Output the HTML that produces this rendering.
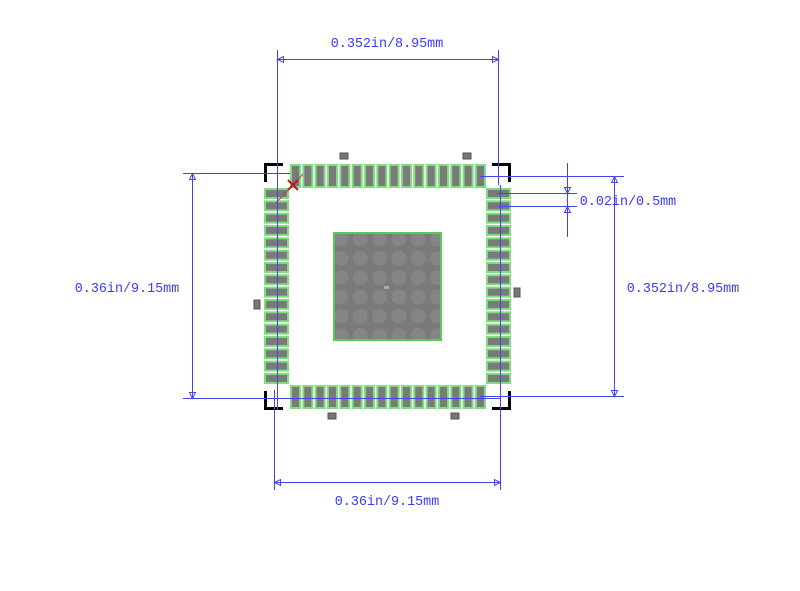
<!DOCTYPE html>
<html><head><meta charset="utf-8"><style>
html,body{margin:0;padding:0;background:#fff}
svg{display:block}
text{font-family:"Liberation Mono",monospace;font-size:13.4px;fill:#3a3aff}
</style></head><body>
<svg id="s" width="800" height="591" viewBox="0 0 800 591" xmlns="http://www.w3.org/2000/svg">
<g id="pads"></g>
<rect x="334" y="233" width="107" height="107" fill="#7a7a7a" stroke="#55cc55" stroke-width="2"/>
<g id="circ" fill="#858585"></g>
<rect x="384" y="286" width="5" height="3" fill="#aaa"/>
<g fill="#777" stroke="#555" stroke-width="1">
<rect x="340" y="153" width="8" height="6"/>
<rect x="463" y="153" width="8" height="6"/>
<rect x="254" y="300" width="6" height="9"/>
<rect x="514" y="288" width="6" height="9"/>
<rect x="328" y="413" width="8" height="6"/>
<rect x="451" y="413" width="8" height="6"/>
</g>
<g stroke="#000" stroke-width="3" fill="none">
<path d="M265.5,182 V164.5 H283"/>
<path d="M492,164.5 H509.5 V182"/>
<path d="M265.5,391 V408.5 H283"/>
<path d="M492,408.5 H509.5 V391"/>
</g>
<line x1="276" y1="203" x2="303" y2="174" stroke="#cc3355" stroke-width="1"/>
<g stroke="#cc1122" stroke-width="2"><line x1="288" y1="180" x2="298" y2="190"/><line x1="298" y1="180" x2="288" y2="190"/></g>
<g stroke="#4444ee" stroke-width="1" fill="none">
<line x1="277.5" y1="50" x2="277.5" y2="185"/><line x1="498.5" y1="50" x2="498.5" y2="185"/>
<line x1="277" y1="59.5" x2="498" y2="59.5"/>
<path d="M277.5,59.5 l6,-3 v6 z"/><path d="M498.5,59.5 l-6,-3 v6 z"/>
<line x1="274.5" y1="390" x2="274.5" y2="490"/><line x1="500.5" y1="185" x2="500.5" y2="490"/>
<line x1="274" y1="482.5" x2="500" y2="482.5"/>
<path d="M274.5,482.5 l6,-3 v6 z"/><path d="M500.5,482.5 l-6,-3 v6 z"/>
<line x1="183" y1="173.5" x2="290" y2="173.5"/><line x1="183" y1="398.5" x2="500" y2="398.5"/>
<line x1="192.5" y1="173" x2="192.5" y2="398"/>
<path d="M192.5,173.5 l-3,6 h6 z"/><path d="M192.5,398.5 l-3,-6 h6 z"/>
<line x1="277.5" y1="185" x2="277.5" y2="410"/>
<line x1="480" y1="176.5" x2="624" y2="176.5"/><line x1="480" y1="396.5" x2="624" y2="396.5"/>
<line x1="614.5" y1="176" x2="614.5" y2="397"/>
<path d="M614.5,176.5 l-3,6 h6 z"/><path d="M614.5,396.5 l-3,-6 h6 z"/>
<line x1="498" y1="193.5" x2="577" y2="193.5"/><line x1="498" y1="206.5" x2="577" y2="206.5"/>
<line x1="567.5" y1="163" x2="567.5" y2="237"/>
<path d="M567.5,193.5 l-3,-6 h6 z"/><path d="M567.5,206.5 l-3,6 h6 z"/>
</g>
<text x="387" y="47" text-anchor="middle">0.352in/8.95mm</text>
<text x="387" y="505" text-anchor="middle">0.36in/9.15mm</text>
<text x="127" y="292" text-anchor="middle">0.36in/9.15mm</text>
<text x="683" y="292" text-anchor="middle">0.352in/8.95mm</text>
<text x="628" y="205" text-anchor="middle">0.02in/0.5mm</text>
</svg>
<script>
var NS="http://www.w3.org/2000/svg",p=document.getElementById("pads"),c=document.getElementById("circ");
function r(x,y,w,h){var e=document.createElementNS(NS,"rect");e.setAttribute("x",x);e.setAttribute("y",y);e.setAttribute("width",w);e.setAttribute("height",h);e.setAttribute("fill","#7a7a7a");e.setAttribute("stroke","#7fdc7f");e.setAttribute("stroke-width","2");p.appendChild(e);}
var pitch=12.33;
for(var i=0;i<16;i++){
 r(291+i*pitch,165,9,22);
 r(291+i*pitch,386,9,22);
 r(265,189+i*pitch,23,9);
 r(487,189+i*pitch,23,9);
}
for(var a=0;a<6;a++)for(var b=0;b<6;b++){
 var e=document.createElementNS(NS,"circle");e.setAttribute("cx",341+a*19.3);e.setAttribute("cy",239+b*19.3);e.setAttribute("r",7.5);c.appendChild(e);
}
c.setAttribute("clip-path","url(#cp)");
var d=document.createElementNS(NS,"defs");d.innerHTML='<clipPath id="cp"><rect x="335" y="234" width="105" height="105"/></clipPath>';
document.getElementById("s").insertBefore(d,document.getElementById("s").firstChild);
</script>
</body></html>
